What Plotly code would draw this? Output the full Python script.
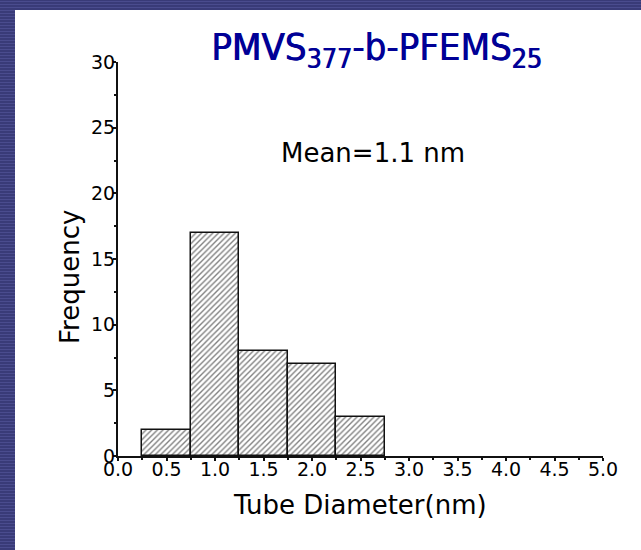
import plotly.graph_objects as go

# ---- data ----
bin_centers = [0.5, 1.0, 1.5, 2.0, 2.5]
frequency = [2, 17, 8, 7, 3]
bin_width = 0.5
x_tick_vals = [0.0, 0.5, 1.0, 1.5, 2.0, 2.5, 3.0, 3.5, 4.0, 4.5, 5.0]
y_tick_vals = [0, 5, 10, 15, 20, 25, 30]
title_text = "PMVS<sub>377</sub>-b-PFEMS<sub>25</sub>"
mean_text = "Mean=1.1 nm"
x_title = "Tube Diameter(nm)"
y_title = "Frequency"

W, H = 641, 550
L, R, T, B = 118, 38, 62, 94
PW, PH = W - L - R, H - T - B

def xp(px):
    return (px - L) / PW

def yp(py):
    return (H - B - py) / PH

BLUE = "#393b78"
STRIPE = "#4a4c8e"
TXT = "DejaVu Sans, Liberation Sans, Arial, sans-serif"
TITLE_BLUE = "#000096"

fig = go.Figure()
fig.add_trace(go.Bar(
    x=bin_centers, y=frequency, width=bin_width,
    marker=dict(color="white",
                line=dict(color="#111111", width=1.5),
                pattern=dict(shape="/", fgcolor="#000000", bgcolor="white",
                             size=4, solidity=0.34)),
    showlegend=False, hoverinfo="x+y",
))

shapes = []
# white panel
shapes.append(dict(type="rect", xref="paper", yref="paper", layer="below",
                   x0=xp(15), x1=xp(W + 5), y0=yp(10), y1=yp(H + 5),
                   fillcolor="white", line=dict(width=0)))
# stripes of the blue border
segs = []
for py in range(1, H, 3):
    x_end = W if py < 10 else 15
    segs.append(f"M{xp(0)},{yp(py + 0.5)} L{xp(x_end)},{yp(py + 0.5)}")
shapes.append(dict(type="path", xref="paper", yref="paper", layer="below",
                   path=" ".join(segs), line=dict(color=STRIPE, width=1)))

annotations = [
    dict(text=title_text, xref="paper", yref="paper", x=xp(376), y=yp(49),
         xanchor="center", yanchor="middle", showarrow=False,
         font=dict(family="DejaVu Sans Condensed, Liberation Sans, sans-serif",
                   size=38, color=TITLE_BLUE,
                   shadow=f"0.8px 0 0 {TITLE_BLUE}")),
    dict(text=mean_text, xref="paper", yref="paper", x=xp(373), y=yp(153),
         xanchor="center", yanchor="middle", showarrow=False,
         font=dict(family=TXT, size=26, color="black")),
    dict(text=y_title, xref="paper", yref="paper", x=xp(70), y=yp(277),
         xanchor="center", yanchor="middle", showarrow=False, textangle=-90,
         font=dict(family=TXT, size=26, color="black")),
    dict(text=x_title, xref="paper", yref="paper", x=xp(360), y=yp(505),
         xanchor="center", yanchor="middle", showarrow=False,
         font=dict(family=TXT, size=26, color="black")),
]

fig.update_layout(
    width=W, height=H, autosize=False,
    margin=dict(l=L, r=R, t=T, b=B, pad=0),
    paper_bgcolor=BLUE, plot_bgcolor="rgba(0,0,0,0)",
    shapes=shapes, annotations=annotations,
    bargap=0,
    xaxis=dict(range=[0, 5], tickvals=x_tick_vals, tickformat=".1f",
               showline=True, linecolor="#111111", linewidth=2,
               ticks="outside", ticklen=3, tickcolor="#111111", tickwidth=1.5,
               minor=dict(dtick=0.25, ticks="outside", ticklen=2, tickcolor="#111111"),
               showgrid=False, zeroline=False, ticklabelstandoff=-8,
               tickfont=dict(family=TXT, size=19, color="black")),
    yaxis=dict(range=[0, 30], tickvals=y_tick_vals,
               showline=True, linecolor="#111111", linewidth=2,
               ticks="outside", ticklen=3, tickcolor="#111111", tickwidth=1.5,
               minor=dict(dtick=2.5, ticks="outside", ticklen=2, tickcolor="#111111"),
               showgrid=False, zeroline=False, ticklabelstandoff=-6,
               tickfont=dict(family=TXT, size=19, color="black")),
)

fig.write_html("out.html")
